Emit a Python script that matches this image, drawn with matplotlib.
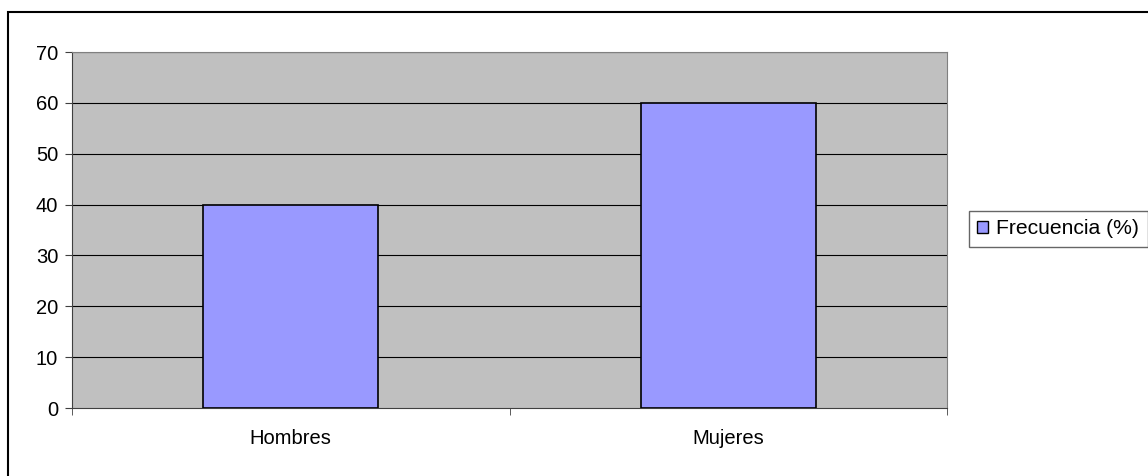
import matplotlib
matplotlib.use("Agg")
import matplotlib.pyplot as plt
from matplotlib.patches import Rectangle, Patch
import numpy as np

plt.rcParams["font.family"] = ["Liberation Sans", "DejaVu Sans"]

categories = ["Hombres", "Mujeres"]
values = [40, 60]
series_name = "Frecuencia (%)"
yticks = [0, 10, 20, 30, 40, 50, 60, 70]

fig = plt.figure(figsize=(11.48, 4.76), dpi=100)
fig.patch.set_facecolor("white")

# outer chart border (open on right/bottom like the cropped original)
fig.patches.append(Rectangle((8 / 1148, -0.05), 1.2, 1 - 12 / 476 + 0.05,
                             transform=fig.transFigure, fill=False,
                             edgecolor="black", linewidth=1.5, zorder=0))

ax = fig.add_axes([72 / 1148, 1 - 408 / 476, 875 / 1148, 356 / 476])
ax.set_facecolor("#C0C0C0")

x = np.arange(len(categories))
ax.bar(x, values, width=0.4, color="#9999FF", edgecolor="black",
       linewidth=1.2, zorder=3)

ax.set_xlim(-0.5, len(categories) - 0.5)
ax.set_ylim(0, 70)
ax.set_yticks(yticks)
ax.set_yticklabels([str(t) for t in yticks], fontsize=14.5)
for t in yticks[1:]:
    ax.axhline(t, color="black", linewidth=0.8, zorder=1)

ax.set_xticks(x)
ax.set_xticklabels(categories, fontsize=14.5)
ax.tick_params(axis="x", which="major", length=0, pad=15)
ax.set_xticks(np.arange(-0.5, len(categories)), minor=True)
ax.tick_params(axis="x", which="minor", length=5, color="#404040")
ax.tick_params(axis="y", length=5, color="#404040", pad=5)

for side in ["top", "right"]:
    ax.spines[side].set_color("#808080")
for side in ["left", "bottom"]:
    ax.spines[side].set_color("#404040")

leg = fig.legend(handles=[Patch(facecolor="#9999FF", edgecolor="black",
                                label=series_name)],
                 loc="center left", bbox_to_anchor=(969 / 1148, 1 - 229 / 476),
                 fontsize=15.2, fancybox=False, frameon=True,
                 handlelength=0.5, handleheight=0.5, handletextpad=0.4,
                 borderpad=0.4, borderaxespad=0)
leg.get_frame().set_edgecolor("#404040")
leg.get_frame().set_linewidth(1.0)

fig.savefig("out.png", dpi=100)
